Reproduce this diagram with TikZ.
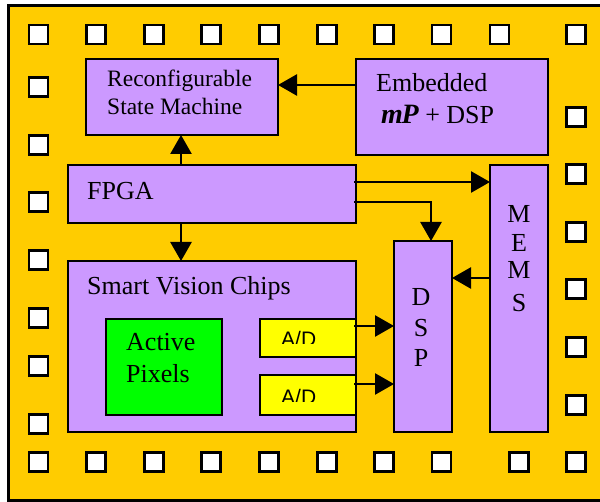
\documentclass[tikz,border=0pt]{standalone}
\usepackage{fontspec}
\setmainfont{Liberation Serif}
\newfontfamily\adfont{Liberation Sans}
\usetikzlibrary{arrows.meta}
\definecolor{board}{HTML}{FFCC00}
\definecolor{lilac}{HTML}{CC99FF}
\definecolor{pixgreen}{HTML}{00FF00}
\definecolor{adyellow}{HTML}{FFFF00}
\tikzset{
  blk/.style={draw, line width=2.8, fill=lilac, inner sep=0, outer sep=0},
  pad/.style={draw, line width=2.6, fill=white, minimum size=19, inner sep=0, outer sep=0},
  lbl/.style={anchor=base west, inner sep=0, font=\fontsize{26}{30}\selectfont},
  letter/.style={anchor=base, inner sep=0, font=\fontsize{26}{30}\selectfont},
  arr/.style={line width=2.5, -{Triangle[length=19pt,width=21pt]}},
}
\begin{document}
\begin{tikzpicture}[x=1pt,y=-1pt]
\useasboundingbox (0,0) rectangle (600,502);
% board
\fill[board] (8,5) rectangle (602,500.5);
\draw[line width=2.5] (602,5.5) -- (8.5,5.5) -- (8.5,500.5) -- (602,500.5);

% bond pads
\foreach \x [count=\i] in {38.5,96,154,211,269,327,384,441.5,499.5,576}
  \node[pad] (top\i) at (\x,34.5) {};
\foreach \x [count=\i] in {38.5,96,154,211,269,327,384,441.5,519,576}
  \node[pad] (bot\i) at (\x,462) {};
\foreach \y [count=\i] in {87,145,202,260,318,366,424}
  \node[pad] (lft\i) at (38.5,\y) {};
\foreach \y [count=\i] in {117,174,232,289,347,405}
  \node[pad] (rgt\i) at (576,\y) {};

% blocks
\node[blk, minimum width=192, minimum height=76] (rsm) at (182,97) {};
\node[blk, minimum width=192, minimum height=96] (emb) at (452,107) {};
\node[blk, minimum width=288, minimum height=58] (fpga) at (212,194) {};
\node[blk, minimum width=58, minimum height=267] (mems) at (519,298.5) {};
\node[blk, minimum width=58, minimum height=191] (dsp) at (423,336.5) {};
\node[blk, minimum width=288, minimum height=171] (svc) at (212,346.5) {};
\node[blk, fill=pixgreen, minimum width=116, minimum height=96] (ap) at (164,367) {};
\node[blk, fill=adyellow, minimum width=96, minimum height=38] (ad1) at (308,338) {};
\node[blk, fill=adyellow, minimum width=96, minimum height=40] (ad2) at (308,395) {};

% labels
\node[lbl, font=\fontsize{23.5}{28}\selectfont] (rsmA) at (107,87) {Reconfigurable};
\node[lbl, font=\fontsize{23.5}{28}\selectfont] (rsmB) at (107,115) {State Machine};
\node[lbl] (embA) at (376,92) {Embedded};
\node[lbl] (embB) at (381,124) {{\fontsize{28}{30}\selectfont\textbf{\textit{m\kern-1.5ptP}}} + DSP};
\node[lbl] (fpgaT) at (87,200) {FPGA};
\node[lbl] (svcT) at (87,295) {Smart Vision Chips};
\node[lbl] (apA) at (126,351) {Active};
\node[lbl] (apB) at (126,383) {Pixels};
\node[letter] (dsp1) at (421,306) {D};
\node[letter] (dsp2) at (421,337) {S};
\node[letter] (dsp3) at (421,367) {P};
\node[letter] (mems1) at (519,223) {M};
\node[letter] (mems2) at (519,252) {E};
\node[letter] (mems3) at (519,279) {M};
\node[letter] (mems4) at (519,312) {S};
\begin{scope}
  \clip (262,321) rectangle (353,344);
  \node[anchor=base west, inner sep=0, font=\adfont\fontsize{21}{24}\selectfont] (ad1T) at (281,347) {A/D};
\end{scope}
\begin{scope}
  \clip (262,378) rectangle (353,402);
  \node[anchor=base west, inner sep=0, font=\adfont\fontsize{21}{24}\selectfont] (ad2T) at (281,405) {A/D};
\end{scope}

% connectors
\coordinate (colA) at (181,0);
\coordinate (colB) at (431,0);
\coordinate (rowA) at (0,85);
\coordinate (rowB) at (0,182);
\coordinate (rowC) at (0,202);
\coordinate (rowD) at (0,278);
\coordinate (rowE) at (0,326);
\coordinate (rowF) at (0,384);
\draw[arr] (emb.west |- rowA) -- (rsm.east |- rowA);
\draw[arr] (colA |- fpga.north) -- (colA |- rsm.south);
\draw[arr] (colA |- fpga.south) -- (colA |- svc.north);
\draw[arr] ([xshift=-2]fpga.east |- rowB) -- (mems.west |- rowB);
\draw[arr] ([xshift=-2]fpga.east |- rowC) -| (colB |- dsp.north);
\draw[arr] (mems.west |- rowD) -- (dsp.east |- rowD);
\draw[arr] ([xshift=-2]ad1.east |- rowE) -- (dsp.west |- rowE);
\draw[arr] ([xshift=-2]ad2.east |- rowF) -- (dsp.west |- rowF);
\end{tikzpicture}
\end{document}
